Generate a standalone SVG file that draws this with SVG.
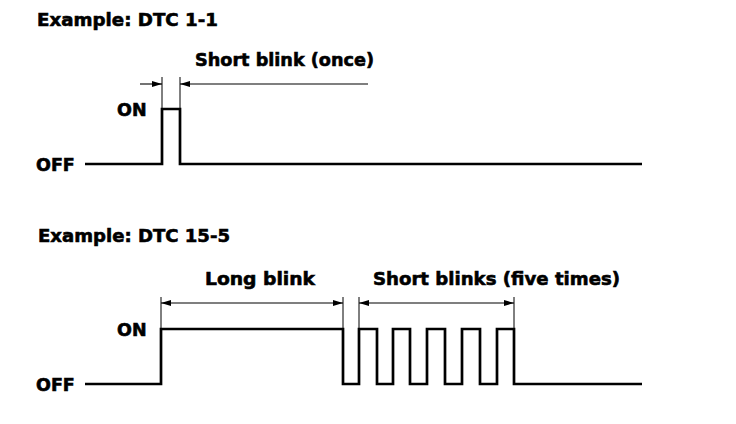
<svg xmlns="http://www.w3.org/2000/svg" width="736" height="424" viewBox="0 0 736 424">
<style>
text{font-family:"DejaVu Sans","Liberation Sans",sans-serif;font-weight:bold;font-size:17.5px;fill:#000;stroke:#000;stroke-width:0.6}
.wave{fill:none;stroke:#000;stroke-width:2.7;stroke-linejoin:miter}
.dim{fill:none;stroke:#000;stroke-width:1.1}
.ext{fill:none;stroke:#000;stroke-width:1}
</style>
<defs>
<marker id="ah" viewBox="0 0 10 6" refX="10" refY="3" markerWidth="10" markerHeight="6" markerUnits="userSpaceOnUse" orient="auto">
<path d="M0,0 L10,3 L0,6 Z" fill="#000"/>
</marker>
</defs>
<rect width="736" height="424" fill="#fff"/>
<g id="example1">
<text x="37" y="26" textLength="181" lengthAdjust="spacingAndGlyphs">Example: DTC 1-1</text>
<text id="on1" x="117" y="116">ON</text>
<text id="off1" x="36" y="170.5">OFF</text>
<text id="short-once" x="195" y="66" textLength="179" lengthAdjust="spacingAndGlyphs">Short blink (once)</text>
</g>
<g id="example2">
<text x="38" y="242" textLength="192" lengthAdjust="spacingAndGlyphs">Example: DTC 15-5</text>
<text id="on2" x="117" y="336">ON</text>
<text id="off2" x="36" y="390.5">OFF</text>
<text id="long-blink" x="205" y="285" textLength="110" lengthAdjust="spacingAndGlyphs">Long blink</text>
<text id="short-five" x="373" y="285" textLength="247" lengthAdjust="spacingAndGlyphs">Short blinks (five times)</text>
</g>
<g id="waveforms">
<path id="wave1" class="wave" d="M85 164 H162 V109 H180 V164 H642"/>
<path id="wave2" class="wave" d="M85 384 H161 V329 H343 V384 H359 V329 H377 V384 H393 V329 H410 V384 H427 V329 H445 V384 H462 V329 H480 V384 H497 V329 H514 V384 H642"/>
</g>
<g id="connectors">
<path class="ext" d="M162 77 V109 M180 77 V109"/>
<path class="dim" d="M140 84 H162" marker-end="url(#ah)"/>
<path class="dim" d="M368 84 H180" marker-end="url(#ah)"/>
<path class="ext" d="M161 297 V329 M343 297 V329 M359 297 V329 M514 297 V329"/>
<path class="dim" d="M252 303 H161" marker-end="url(#ah)"/>
<path class="dim" d="M252 303 H343" marker-end="url(#ah)"/>
<path class="dim" d="M436 303 H359" marker-end="url(#ah)"/>
<path class="dim" d="M436 303 H514" marker-end="url(#ah)"/>
</g>
</svg>
